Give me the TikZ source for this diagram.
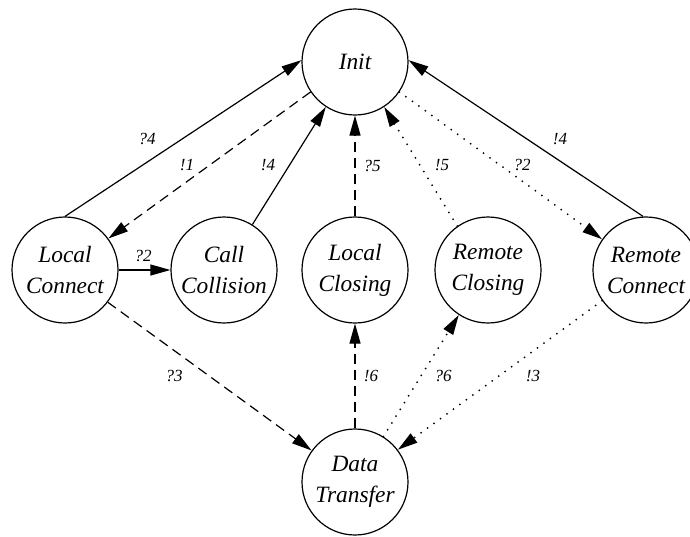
\documentclass[tikz,border=0pt]{standalone}
\usepackage{fontspec}
\setmainfont{Liberation Serif}
\usetikzlibrary{arrows.meta}
\begin{document}
\begin{tikzpicture}[x=1pt,y=-1pt,
  state/.style={circle,draw,line width=1.2pt,minimum size=106pt,inner sep=0pt,align=center,
    font=\fontsize{23.4}{31}\selectfont\itshape},
  lbl/.style={font=\fontsize{17}{20}\selectfont\itshape,inner sep=0pt},
  conn/.style={line width=1.2pt,-{Triangle[length=20pt,width=11pt]}},
  dsh/.style={dash pattern=on 10pt off 6pt},
  dtt/.style={line cap=round,dash pattern=on 0pt off 8pt,line width=2pt}]
\useasboundingbox (0,0) rectangle (690,536);
\node[state] (init) at (355,62) {Init};
\node[state] (lc) at (65,270) {Local\\Connect};
\node[state] (cc) at (224,270) {Call\\Collision};
\node[state] (lcl) at (355,270) {Local\\Closing};
\node[state] (rcl) at (488,270) {Remote\\Closing};
\node[state] (rc) at (646,270) {Remote\\Connect};
\node[state] (dt) at (355,482) {Data\\Transfer};

\draw[conn] (lc.90) -- (init.178);
\draw[conn,dsh] (init.214) -- (lc.36);
\draw[conn] (lc.0) -- (cc.180);
\draw[conn] (cc.58) -- (init.237);
\draw[conn,dsh] (lcl.90) -- (init.270);
\draw[conn,dtt] (rcl.125) -- (init.303);
\draw[conn,dtt] (init.-34) -- (rc.145);
\draw[conn] (rc.93) -- (init.2);
\draw[conn,dsh] (lc.-37) -- (dt.144);
\draw[conn,dsh] (dt.90) -- (lcl.270);
\draw[conn,dtt] (dt.58) -- (rcl.237);
\draw[conn,dtt] (rc.215) -- (dt.37);

\node[lbl] (l1) at (147,139) {?4};
\node[lbl] (l2) at (187,165) {!1};
\node[lbl] (l3) at (268,165) {!4};
\node[lbl] (l4) at (372,166) {?5};
\node[lbl] (l5) at (442,165) {!5};
\node[lbl] (l6) at (522,165) {?2};
\node[lbl] (l7) at (560,139) {!4};
\node[lbl] (l8) at (143,256) {?2};
\node[lbl] (l9) at (174,376) {?3};
\node[lbl] (l10) at (371,376) {!6};
\node[lbl] (l11) at (443,376) {?6};
\node[lbl] (l12) at (533,376) {!3};
\end{tikzpicture}
\end{document}
